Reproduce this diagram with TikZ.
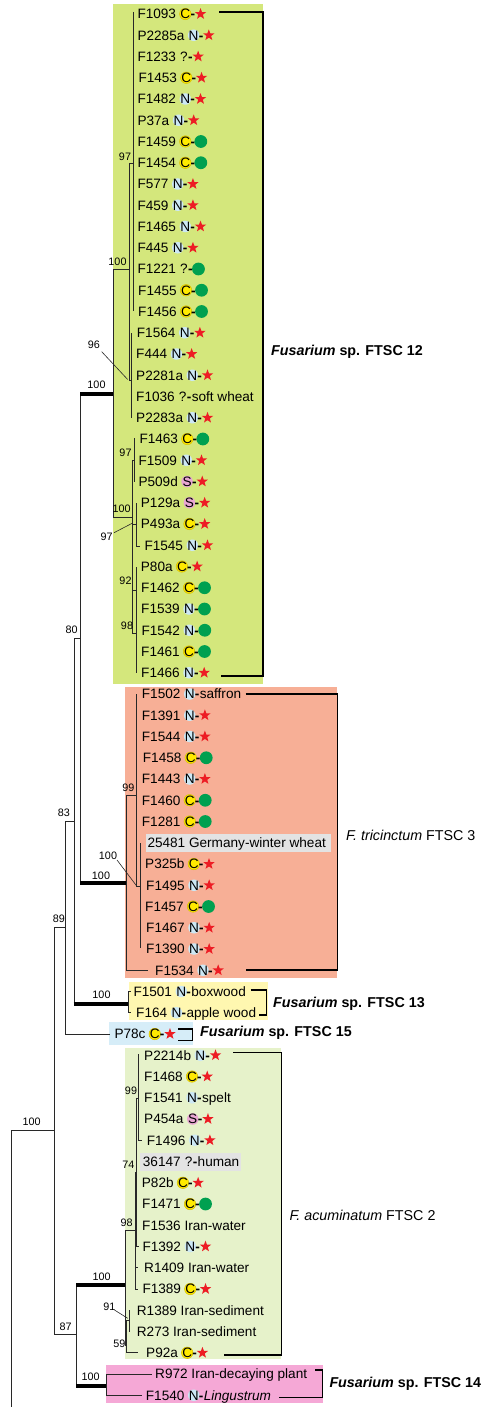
\documentclass[tikz,border=0pt]{standalone}
\usepackage{fontspec}
\setmainfont{Liberation Sans}
\usetikzlibrary{shapes.geometric}
\definecolor{boxG}{RGB}{212,231,124}
\definecolor{boxT}{RGB}{247,175,150}
\definecolor{boxY}{RGB}{255,247,176}
\definecolor{boxB}{RGB}{214,237,248}
\definecolor{boxA}{RGB}{230,242,202}
\definecolor{boxP}{RGB}{245,168,214}
\definecolor{boxGr}{RGB}{227,227,227}
\definecolor{cYel}{RGB}{255,234,0}
\definecolor{cYelE}{RGB}{214,190,0}
\definecolor{cBlu}{RGB}{204,232,245}
\definecolor{cPnk}{RGB}{232,166,210}
\definecolor{sRed}{RGB}{237,28,36}
\definecolor{dGrn}{RGB}{0,160,80}
\definecolor{lnc}{RGB}{40,40,40}
\newcommand\leafA[4]{\node[leaf] (#1) at (#2,{14+21.25*#3}) {#4};}
\newcommand\badge[3]{\node[#2,label={[bt]center:#3}] (#1b) at ([xshift=9.05pt]#1.east) {};\node[leaf] (#1d) at ([xshift=-1pt]#1b.east) {\textbf{-}};}
\newcommand\qmk[1]{\node[leaf] (#1b) at ([xshift=3.7pt]#1.east) {?};\node[leaf] (#1d) at (#1b.east) {\textbf{-}};}
\newcommand\rstr[1]{\node[rstar] (#1e) at ([xshift=5.3pt]#1d.east) {};}
\newcommand\gdt[1]{\node[gdot] (#1e) at ([xshift=5.6pt]#1d.east) {};}
\newcommand\etx[2]{\node[leaf] (#1e) at (#1d.east) {#2};}
\tikzset{
  leaf/.style={anchor=west, inner sep=0pt, font=\fontsize{13.6}{16}\selectfont, text height=9.7pt, text depth=0pt},
  bt/.style={inner sep=0pt, font=\fontsize{13.6}{16}\selectfont, text height=9.7pt, text depth=0pt},
  cC/.style={circle, fill=cYel, draw=cYelE, line width=0.5pt, minimum size=11.5pt, inner sep=0pt},
  cN/.style={circle, fill=cBlu, minimum size=11.5pt, inner sep=0pt},
  cS/.style={circle, fill=cPnk, minimum size=11.5pt, inner sep=0pt},
  rstar/.style={star, star points=5, star point ratio=2.4, fill=sRed, minimum size=11.8pt, inner sep=0pt},
  gdot/.style={circle, fill=dGrn, minimum size=12.8pt, inner sep=0pt},
  tl/.style={line width=0.8pt, draw=lnc},
  tk/.style={line width=4pt, draw=black},
  br/.style={line width=1.5pt, draw=black},
  ldr/.style={line width=0.6pt, draw=lnc},
  bs/.style={font=\fontsize{10.8}{12}\selectfont, inner sep=0pt},
  clab/.style={anchor=west, inner sep=0pt, font=\fontsize{14.3}{17}\selectfont}
}
\begin{document}
\begin{tikzpicture}[x=1pt,y=-1pt]
\useasboundingbox (0,0) rectangle (484,1407);
% clade boxes
\fill[boxG] (113,4) rectangle (263,684);
\fill[boxT] (125,686.7) rectangle (337.3,978.3);
\fill[boxY] (129,981.7) rectangle (267.7,1020);
\fill[boxB] (109,1021.7) rectangle (193.3,1045);
\fill[boxA] (125,1048.3) rectangle (281,1359.3);
\fill[boxP] (106,1365) rectangle (322.7,1403.3);
\fill[boxGr] (146,834) rectangle (330.7,851.7);
\fill[boxGr] (140,1153.3) rectangle (240.7,1171);
% backbone
\coordinate (r0) at (11.7,1130);
\coordinate (nA) at (54,1130);
\draw[tl] (11.7,1407) -- (r0) -- (nA);
\draw[tl] (54,927) -- (54,1334);
\node[bs] (s0) at (31.7,1122) {100};
\draw[tl] (54,927) -- (65.7,927); \draw[tl] (65.7,821) -- (65.7,1034) -- (110,1034);
\node[bs] (s1) at (59,919) {89};
\draw[tl] (65.7,821) -- (74,821); \draw[tl] (74,638) -- (74,1004);
\node[bs] (s2) at (64,812.5) {83};
\draw[tl] (74,638) -- (80.7,638); \draw[tl] (80.7,394) -- (80.7,883);
\node[bs] (s3) at (71.7,630) {80};
% FTSC 12
\draw[tk] (80.3,394) -- (113,394);
\node[bs] (s4) at (96.5,385) {100};
\draw[tl] (113,269) -- (113,517);
\draw[tl] (113,269) -- (129,269); \node[bs] (s5) at (117.5,262) {100};
\draw[tl] (129,163) -- (129,380);
\draw[tl] (129,163) -- (133,163); \node[bs] (s6) at (125,156.5) {97};
\draw[tl] (133,12) -- (133,311);
\draw[tl] (129,380) -- (131.7,380); \draw[tl] (131.7,333) -- (131.7,418);
\node[bs] (s7) at (94,345) {96}; \draw[ldr] (101.7,351.7) -- (127.7,379.5);
\draw[tl] (113,517) -- (132.3,517); \node[bs] (s8) at (121.7,509) {100};
\draw[tl] (132.3,460) -- (132.3,633);
\draw[tl] (132.3,460) -- (134.3,460); \draw[tl] (134.3,438) -- (134.3,482);
\node[bs] (s9) at (125.5,452.7) {97};
\draw[tl] (132.3,524) -- (136.5,524); \draw[tl] (136.5,503) -- (136.5,546) -- (139.5,546);
\node[bs] (s10) at (106.7,536.7) {97}; \draw[ldr] (114,532.7) -- (132.7,523);
\draw[tl] (132.3,590) -- (136.7,590); \draw[tl] (132.3,633) -- (136.7,633);
\draw[tl] (136.7,567) -- (136.7,673);
\node[bs] (s11) at (125.5,581) {92}; \node[bs] (s12) at (127,625.7) {98};
% F. tricinctum
\draw[tk] (80.3,883) -- (126,883); \node[bs] (s13) at (101,875.5) {100};
\draw[tl] (126,795.7) -- (126,970) -- (148.3,970);
\draw[tl] (126,795.7) -- (136,795.7); \node[bs] (s14) at (128.3,787.5) {99};
\draw[tl] (136,694) -- (136,886.7) -- (140.7,886.7);
\draw[tl] (140.7,843) -- (140.7,948.3);
\node[bs] (s15) at (108,856) {100}; \draw[ldr] (117,860) -- (136.7,886);
% FTSC 13
\draw[tk] (73.6,1004) -- (128.3,1004); \node[bs] (s16) at (101.5,994.3) {100};
\draw[tl] (130.5,991.5) -- (128.3,991.5) -- (128.3,1012.75) -- (131,1012.75);
% N87
\draw[tl] (54,1334) -- (76.7,1334); \draw[tl] (76.7,1285) -- (76.7,1385.7);
\node[bs] (s17) at (65.7,1326.7) {87};
% F. acuminatum
\draw[tk] (76.3,1285) -- (125,1285); \node[bs] (s18) at (101.7,1276.5) {100};
\draw[tl] (125,1230.7) -- (125,1345);
\draw[tl] (125,1230.7) -- (135,1230.7); \node[bs] (s19) at (126.7,1222.7) {98};
\draw[tl] (135,1172) -- (135,1289) -- (138,1289); \draw[tl] (135,1267.75) -- (138,1267.75);
\draw[tl] (135,1172) -- (136,1172); \node[bs] (s20) at (128.3,1165) {74};
\draw[tl] (136,1098) -- (136,1246.5) -- (139,1246.5);
\draw[tl] (136,1098) -- (138.3,1098); \node[bs] (s21) at (131,1090.7) {99};
\draw[tl] (138.3,1054) -- (138.3,1140.5) -- (141.5,1140.5);
\draw[tl] (125,1345) -- (126.7,1345); \node[bs] (s22) at (119.3,1344) {59};
\draw[tl] (126.7,1320) -- (126.7,1352.75) -- (138.3,1352.75);
\draw[tl] (126.7,1320) -- (129.3,1320); \draw[tl] (129.3,1310.25) -- (129.3,1331.5);
\node[bs] (s23) at (109.3,1306.7) {91}; \draw[ldr] (114.5,1310) -- (127.7,1318.3);
% FTSC 14
\draw[tk] (76.3,1385.7) -- (106,1385.7); \node[bs] (s24) at (90.7,1376.7) {100};
\draw[tl] (151.7,1374) -- (106,1374) -- (106,1395.25) -- (141.7,1395.25);
% brackets
\draw[br] (219,12) -- (263,12) -- (263,676) -- (220.7,676);
\draw[br] (245.7,694) -- (337.3,694) -- (337.3,970) -- (245.7,970);
\draw[br] (250.7,990) -- (266.7,990) -- (266.7,1015) -- (259,1015);
\draw[br] (178,1029) -- (192.3,1029) -- (192.3,1040.7) -- (178,1040.7);
\draw[br] (233.3,1052.3) -- (281.7,1052.3) -- (281.7,1355) -- (224.3,1355);
\draw[br] (315,1370) -- (322.7,1370) -- (322.7,1397.7) -- (279.3,1397.7);
% clade labels
\node[clab] (L12) at (271,352) {\textbf{\textit{Fusarium} sp. FTSC 12}};
\node[clab] (L3) at (346,835) {\textit{F. tricinctum} FTSC 3};
\node[clab] (L13) at (273,1004) {\textbf{\textit{Fusarium} sp. FTSC 13}};
\node[clab] (L15) at (200,1033) {\textbf{\textit{Fusarium} sp. FTSC 15}};
\node[clab] (L2) at (289.3,1215.7) {\textit{F. acuminatum} FTSC 2};
\node[clab] (L14) at (329.3,1384) {\textbf{\textit{Fusarium} sp. FTSC 14}};
% leaves FTSC 12
\leafA{g0}{137.3}{0}{F1093}\badge{g0}{cC}{C}\rstr{g0}
\leafA{g1}{137.3}{1}{P2285a}\badge{g1}{cN}{N}\rstr{g1}
\leafA{g2}{137.3}{2}{F1233}\qmk{g2}\rstr{g2}
\leafA{g3}{138.3}{3}{F1453}\badge{g3}{cC}{C}\rstr{g3}
\leafA{g4}{137.3}{4}{F1482}\badge{g4}{cN}{N}\rstr{g4}
\leafA{g5}{137.3}{5}{P37a}\badge{g5}{cN}{N}\rstr{g5}
\leafA{g6}{137.3}{6}{F1459}\badge{g6}{cC}{C}\gdt{g6}
\leafA{g7}{137.3}{7}{F1454}\badge{g7}{cC}{C}\gdt{g7}
\leafA{g8}{137.3}{8}{F577}\badge{g8}{cN}{N}\rstr{g8}
\leafA{g9}{137.3}{9}{F459}\badge{g9}{cN}{N}\rstr{g9}
\leafA{g10}{137.3}{10}{F1465}\badge{g10}{cN}{N}\rstr{g10}
\leafA{g11}{137.3}{11}{F445}\badge{g11}{cN}{N}\rstr{g11}
\leafA{g12}{137.3}{12}{F1221}\qmk{g12}\gdt{g12}
\leafA{g13}{138}{13}{F1455}\badge{g13}{cC}{C}\gdt{g13}
\leafA{g14}{138}{14}{F1456}\badge{g14}{cC}{C}\gdt{g14}
\leafA{g15}{136.7}{15}{F1564}\badge{g15}{cN}{N}\rstr{g15}
\leafA{g16}{136}{16}{F444}\badge{g16}{cN}{N}\rstr{g16}
\leafA{g17}{136}{17}{P2281a}\badge{g17}{cN}{N}\rstr{g17}
\leafA{g18}{136}{18}{F1036}\qmk{g18}\etx{g18}{soft wheat}
\leafA{g19}{136}{19}{P2283a}\badge{g19}{cN}{N}\rstr{g19}
\leafA{g20}{139.3}{20}{F1463}\badge{g20}{cC}{C}\gdt{g20}
\leafA{g21}{138.3}{21}{F1509}\badge{g21}{cN}{N}\rstr{g21}
\leafA{g22}{138.3}{22}{P509d}\badge{g22}{cS}{S}\rstr{g22}
\leafA{g23}{140.7}{23}{P129a}\badge{g23}{cS}{S}\rstr{g23}
\leafA{g24}{140.7}{24}{P493a}\badge{g24}{cC}{C}\rstr{g24}
\leafA{g25}{144.3}{25}{F1545}\badge{g25}{cN}{N}\rstr{g25}
\leafA{g26}{140.7}{26}{P80a}\badge{g26}{cC}{C}\rstr{g26}
\leafA{g27}{141}{27}{F1462}\badge{g27}{cC}{C}\gdt{g27}
\leafA{g28}{141}{28}{F1539}\badge{g28}{cN}{N}\gdt{g28}
\leafA{g29}{141.3}{29}{F1542}\badge{g29}{cN}{N}\gdt{g29}
\leafA{g30}{141}{30}{F1461}\badge{g30}{cC}{C}\gdt{g30}
\leafA{g31}{141}{31}{F1466}\badge{g31}{cN}{N}\rstr{g31}
% leaves F. tricinctum
\leafA{t0}{141.7}{32}{F1502}\badge{t0}{cN}{N}\etx{t0}{saffron}
\leafA{t1}{141.7}{33}{F1391}\badge{t1}{cN}{N}\rstr{t1}
\leafA{t2}{141.7}{34}{F1544}\badge{t2}{cN}{N}\rstr{t2}
\leafA{t3}{142.7}{35}{F1458}\badge{t3}{cC}{C}\gdt{t3}
\leafA{t4}{141.7}{36}{F1443}\badge{t4}{cN}{N}\rstr{t4}
\leafA{t5}{141.7}{37}{F1460}\badge{t5}{cC}{C}\gdt{t5}
\leafA{t6}{141.7}{38}{F1281}\badge{t6}{cC}{C}\gdt{t6}
\leafA{t7}{147.3}{39}{25481 Germany-winter wheat}
\leafA{t8}{145}{40}{P325b}\badge{t8}{cC}{C}\rstr{t8}
\leafA{t9}{146}{41}{F1495}\badge{t9}{cN}{N}\rstr{t9}
\leafA{t10}{145}{42}{F1457}\badge{t10}{cC}{C}\gdt{t10}
\leafA{t11}{146}{43}{F1467}\badge{t11}{cN}{N}\rstr{t11}
\leafA{t12}{146}{44}{F1390}\badge{t12}{cN}{N}\rstr{t12}
\leafA{t13}{155}{45}{F1534}\badge{t13}{cN}{N}\rstr{t13}
% FTSC 13 and 15
\leafA{f0}{133.3}{46}{F1501}\badge{f0}{cN}{N}\etx{f0}{boxwood}
\leafA{f1}{136}{47}{F164}\badge{f1}{cN}{N}\etx{f1}{apple wood}
\leafA{p0}{114.3}{48}{P78c}\badge{p0}{cC}{C}\rstr{p0}
% F. acuminatum
\leafA{a0}{144}{49}{P2214b}\badge{a0}{cN}{N}\rstr{a0}
\leafA{a1}{144}{50}{F1468}\badge{a1}{cC}{C}\rstr{a1}
\leafA{a2}{144}{51}{F1541}\badge{a2}{cN}{N}\etx{a2}{spelt}
\leafA{a3}{144}{52}{P454a}\badge{a3}{cS}{S}\rstr{a3}
\leafA{a4}{146.7}{53}{F1496}\badge{a4}{cN}{N}\rstr{a4}
\leafA{a5}{142.7}{54}{36147}\qmk{a5}\etx{a5}{human}
\leafA{a6}{141.7}{55}{P82b}\badge{a6}{cC}{C}\rstr{a6}
\leafA{a7}{142}{56}{F1471}\badge{a7}{cC}{C}\gdt{a7}
\leafA{a8}{142}{57}{F1536 Iran-water}
\leafA{a9}{142.3}{58}{F1392}\badge{a9}{cN}{N}\rstr{a9}
\leafA{a10}{144}{59}{R1409 Iran-water}
\leafA{a11}{142.3}{60}{F1389}\badge{a11}{cC}{C}\rstr{a11}
\leafA{a12}{136.7}{61}{R1389 Iran-sediment}
\leafA{a13}{136.7}{62}{R273 Iran-sediment}
\leafA{a14}{146}{63}{P92a}\badge{a14}{cC}{C}\rstr{a14}
% FTSC 14
\leafA{k0}{155}{64}{R972 Iran-decaying plant}
\leafA{k1}{145.7}{65}{F1540}\badge{k1}{cN}{N}\etx{k1}{\textit{Lingustrum}}
\end{tikzpicture}
\end{document}
